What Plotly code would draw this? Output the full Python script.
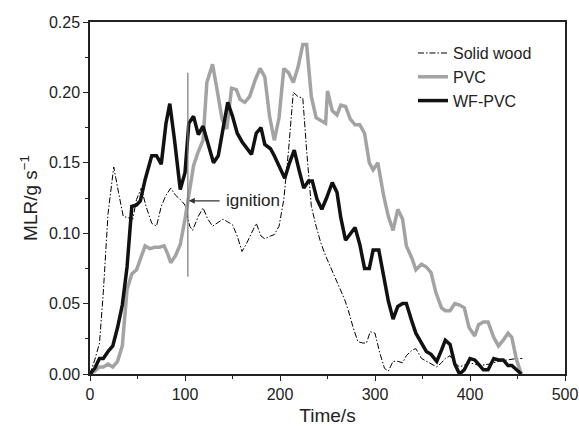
import plotly.graph_objects as go

t_wf = [0,5,10,14,19,24,29,34,39,44,49,53,58,63,65,70,75,80,84,89,95,100,104,109,114,119,124,130,135,140,145,150,155,160,165,170,175,180,184,190,194,199,205,210,215,220,225,230,234,239,244,249,255,260,264,269,274,279,284,289,294,298,304,309,314,319,324,329,333,339,343,349,354,359,365,370,374,379,384,389,394,400,405,409,414,419,425,430,435,440,444,449,454]
y_wf = [0,0.004,0.011,0.011,0.016,0.020,0.033,0.049,0.076,0.119,0.120,0.123,0.138,0.150,0.155,0.155,0.149,0.178,0.192,0.166,0.131,0.143,0.178,0.183,0.170,0.176,0.164,0.150,0.155,0.175,0.193,0.183,0.171,0.165,0.160,0.156,0.171,0.175,0.163,0.160,0.155,0.147,0.139,0.150,0.159,0.145,0.132,0.137,0.137,0.124,0.117,0.125,0.136,0.129,0.111,0.095,0.100,0.104,0.092,0.075,0.075,0.088,0.088,0.071,0.052,0.039,0.048,0.050,0.050,0.037,0.029,0.022,0.016,0.014,0.009,0.017,0.024,0.021,0.007,0.000,0.003,0.011,0.010,0.007,0.003,0.003,0.011,0.010,0.010,0.006,0.006,0.003,0.000]

t_pvc = [0,5,10,14,19,24,29,34,39,44,49,53,58,63,68,73,78,82,85,90,95,100,104,109,114,119,123,129,134,139,144,149,154,158,163,168,174,179,184,189,194,199,204,209,214,219,224,228,233,238,243,248,250,255,260,264,269,274,279,284,289,294,298,303,309,314,319,324,329,333,339,343,349,354,359,364,370,374,379,384,389,394,399,405,409,414,419,425,430,435,440,444,449,454]
y_pvc = [0,0.002,0.005,0.005,0.007,0.005,0.009,0.020,0.060,0.071,0.074,0.082,0.091,0.089,0.090,0.090,0.091,0.085,0.079,0.084,0.092,0.110,0.127,0.148,0.158,0.166,0.207,0.220,0.201,0.181,0.174,0.203,0.202,0.195,0.193,0.197,0.209,0.217,0.211,0.183,0.166,0.182,0.217,0.214,0.207,0.218,0.234,0.234,0.197,0.182,0.180,0.178,0.201,0.187,0.184,0.191,0.190,0.181,0.177,0.177,0.171,0.150,0.145,0.150,0.127,0.112,0.102,0.117,0.110,0.091,0.082,0.074,0.078,0.076,0.072,0.058,0.047,0.045,0.045,0.050,0.049,0.047,0.033,0.027,0.035,0.037,0.037,0.026,0.020,0.024,0.029,0.026,0.010,0.000]

t_wood = [0,5,10,14,19,22,25,30,35,40,45,49,54,59,65,70,75,80,85,90,95,100,105,108,114,119,124,129,135,140,145,150,155,160,165,170,175,180,184,190,194,199,204,209,214,219,224,228,233,238,243,248,253,258,263,268,272,277,282,287,291,295,300,305,310,314,319,324,329,333,339,343,349,354,359,365,370,374,379,384,389,400,410,420,430,440,449,455]
y_wood = [0,0.010,0.022,0.058,0.114,0.133,0.147,0.129,0.112,0.111,0.110,0.124,0.132,0.119,0.107,0.105,0.119,0.127,0.132,0.127,0.124,0.120,0.105,0.102,0.112,0.118,0.110,0.105,0.108,0.110,0.108,0.106,0.098,0.087,0.093,0.100,0.107,0.098,0.096,0.098,0.099,0.105,0.124,0.159,0.200,0.197,0.196,0.159,0.119,0.105,0.093,0.084,0.076,0.069,0.060,0.053,0.045,0.033,0.023,0.022,0.022,0.030,0.029,0.015,0.004,0.002,0.009,0.009,0.008,0.013,0.017,0.018,0.011,0.009,0.007,0.005,0.008,0.011,0.013,0.008,0.005,0.008,0.006,0.007,0.009,0.010,0.011,0.011]

ignition_t = 103
ignition_span = [0.069, 0.214]
ignition_arrow_y = 0.123

fig = go.Figure()
fig.add_trace(go.Scatter(x=t_wood, y=y_wood, mode="lines", name="Solid wood",
                         line=dict(color="black", width=1, dash="6px,2px,1.5px,2px")))
fig.add_trace(go.Scatter(x=t_pvc, y=y_pvc, mode="lines", name="PVC",
                         line=dict(color="#a3a3a3", width=3.5)))
fig.add_trace(go.Scatter(x=t_wf, y=y_wf, mode="lines", name="WF-PVC",
                         line=dict(color="#111111", width=3.5)))

fig.add_shape(type="line", x0=ignition_t, x1=ignition_t, y0=ignition_span[0], y1=ignition_span[1],
              xref="x", yref="y", line=dict(color="#777777", width=1.2))
fig.add_annotation(x=ignition_t + 1, y=ignition_arrow_y, ax=138, ay=ignition_arrow_y,
                   xref="x", yref="y", axref="x", ayref="y",
                   text="", showarrow=True, arrowhead=2, arrowsize=1, arrowwidth=1.2,
                   arrowcolor="#333333", standoff=0)
fig.add_annotation(x=141, y=ignition_arrow_y, xref="x", yref="y", text="ignition",
                   showarrow=False, xanchor="left", yanchor="middle",
                   font=dict(size=17, color="#222222"))

fig.update_layout(
    width=579, height=426,
    margin=dict(l=90, r=14, t=22, b=52),
    plot_bgcolor="white", paper_bgcolor="white",
    font=dict(family="Liberation Sans, Arial, sans-serif", size=16, color="#222222"),
    showlegend=True,
    legend=dict(x=0.68, y=0.96, xanchor="left", yanchor="top",
                bgcolor="rgba(0,0,0,0)", font=dict(size=16),
                tracegroupgap=0, itemwidth=30),
)
fig.update_xaxes(range=[0, 500], tickvals=[0, 100, 200, 300, 400, 500],
                 ticks="outside", ticklen=5, tickwidth=1.2, tickcolor="#222222",
                 minor=dict(tickvals=[50, 150, 250, 350, 450], ticks="outside", ticklen=3, tickcolor="#222222"),
                 showline=True, linecolor="#222222", linewidth=1.5, mirror=True,
                 showgrid=False, zeroline=False, automargin=False,
                 title=dict(text="Time/s", font=dict(size=19), standoff=8),
                 tickfont=dict(size=16))
fig.update_yaxes(range=[0, 0.25], tickvals=[0, 0.05, 0.10, 0.15, 0.20, 0.25], tickformat=".2f",
                 ticks="outside", ticklen=5, tickwidth=1.2, tickcolor="#222222",
                 minor=dict(tickvals=[0.025, 0.075, 0.125, 0.175, 0.225], ticks="outside", ticklen=3, tickcolor="#222222"),
                 showline=True, linecolor="#222222", linewidth=1.5, mirror=True,
                 showgrid=False, zeroline=False, automargin=False,
                 title=dict(text="MLR/g s<sup>−1</sup>", font=dict(size=19), standoff=6),
                 tickfont=dict(size=16))

fig.write_html("out.html")
